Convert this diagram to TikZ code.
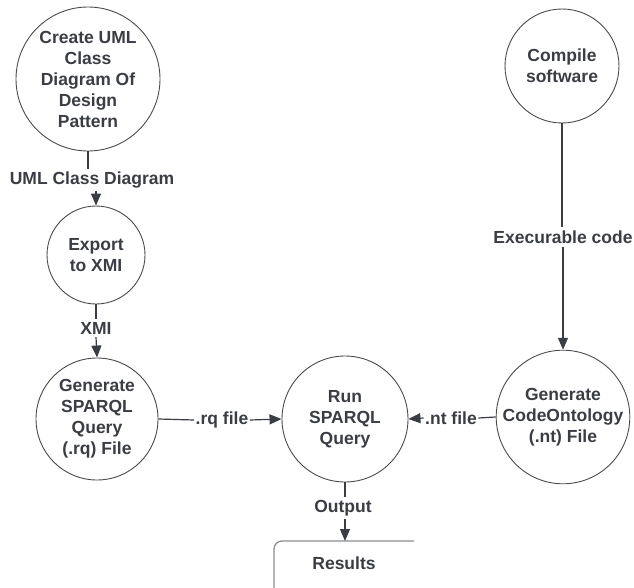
\documentclass[tikz,border=0pt]{standalone}
\usepackage{fontspec}
\setmainfont{Liberation Sans}
\usetikzlibrary{arrows.meta}
\definecolor{txt}{HTML}{3A3D44}
\definecolor{edge}{HTML}{3A3D44}
\definecolor{ring}{HTML}{4A4A4A}
\definecolor{boxc}{HTML}{8A8D92}
\tikzset{
  proc/.style={circle, draw=ring, line width=0.9pt, inner sep=0pt, align=center,
    text=txt, font=\fontsize{17.5}{21}\selectfont\bfseries},
  elabel/.style={inner xsep=1.5pt, inner ysep=3pt, text=txt,
    font=\fontsize{17.5}{21}\selectfont\bfseries},
  conn/.style={draw=edge, line width=1.2pt},
  arr/.style={conn, -{Triangle[length=12pt,width=10pt]}}
}
\begin{document}
\begin{tikzpicture}[x=1pt,y=-1pt]
\useasboundingbox (0,0) rectangle (634,588);
% processes
\node[proc, minimum size=144pt] (c1) at (88,79) {Create UML\\Class\\Diagram Of\\Design\\Pattern};
\node[proc, minimum size=98pt] (c2) at (96,255) {Export\\to XMI};
\node[proc, minimum size=122pt] (c3) at (97,419) {Generate\\SPARQL\\Query\\(.rq) File};
\node[proc, minimum size=126pt] (c4) at (345,419) {Run\\SPARQL\\Query};
\node[proc, minimum size=132pt] (c5) at (563,417) {Generate\\CodeOntology\\(.nt) File};
\node[proc, minimum size=114pt] (c6) at (562,66) {Compile\\software};
% results box (cropped)
\draw[draw=boxc, line width=1.3pt, rounded corners=8pt] (414,541) -- (274,541) -- (274,589);
\node[text=txt, font=\fontsize{17.5}{21}\selectfont\bfseries] (res) at (344,563) {Results};
\coordinate (rtop) at (345,541);
% edge labels
\node[elabel] (l1) at (92,180) {UML Class Diagram};
\node[elabel] (l2) at (96,328) {XMI};
\node[elabel] (l3) at (222,420) {.rq file};
\node[elabel] (l4) at (451,418) {.nt file};
\node[elabel] (l5) at (563,237) {Execurable code};
\node[elabel] (l6) at (343,508) {Output};
% connectors
\draw[conn] (c1.south) -- (c1.south |- l1.north);
\draw[arr] (c2.north |- l1.south) -- (c2.north);
\draw[conn] (c2.south) -- (c2.south |- l2.north);
\draw[arr] (l2.south) -- (c3.north);
\draw[conn] (c3.east) -- (l3.west);
\draw[arr] (l3.east) -- (c4.west);
\draw[conn] (c5.west) -- (l4.east);
\draw[arr] (l4.west) -- (c4.east);
\draw[conn] (c6.south) -- (c6.south |- l5.north);
\draw[arr] (c5.north |- l5.south) -- (c5.north);
\draw[conn] (c4.south) -- (c4.south |- l6.north);
\draw[arr] (rtop |- l6.south) -- (rtop);
\end{tikzpicture}
\end{document}
